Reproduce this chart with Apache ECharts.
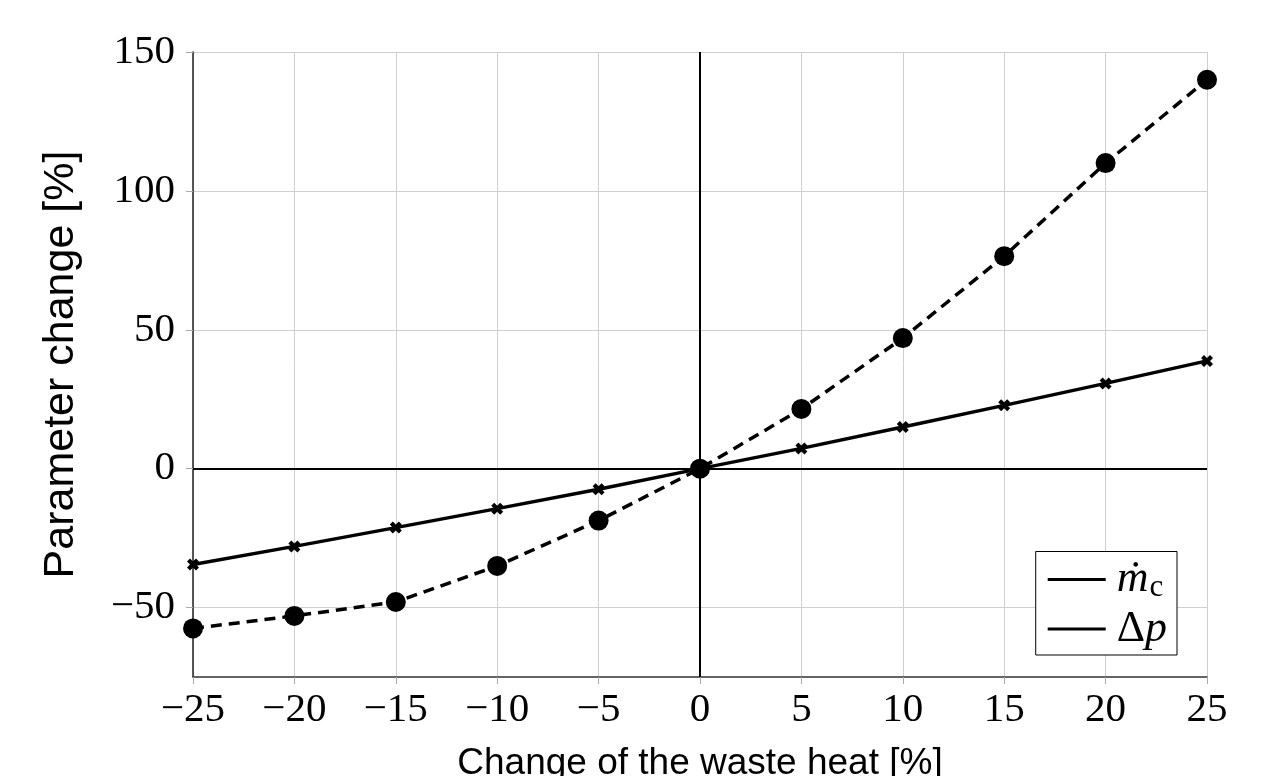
<!DOCTYPE html>
<html>
<head>
<meta charset="utf-8">
<script src="https://cdn.jsdelivr.net/npm/echarts@6/dist/echarts.min.js"></script>
<style>
  html, body { margin: 0; padding: 0; background: #fff; }
  #chart { width: 1273px; height: 776px; }
</style>
</head>
<body>
<div id="chart"></div>
<script>
// change of the waste heat [%]
var wasteHeat = [-25, -20, -15, -10, -5, 0, 5, 10, 15, 20, 25];
// dashed line with circles
var massFlow = [-57.5, -53, -48, -35, -18.7, 0, 21.5, 47, 76.5, 110, 140];
// solid line with crosses
var pressureDrop = [-34.5, -28, -21.2, -14.4, -7.4, 0, 7.3, 15, 22.8, 30.7, 38.8];
// y tick positions
var yTicks = [-50, 0, 50, 100, 150];

function pairs(xs, ys) {
  return xs.map(function (x, i) { return [x, ys[i]]; });
}

var serif = '"Liberation Serif", "DejaVu Serif", serif';
var sans = '"Liberation Sans", Arial, sans-serif';
var crossPath = 'path://M0,2.5 L2.5,0 L5,2.5 L7.5,0 L10,2.5 L7.5,5 L10,7.5 L7.5,10 L5,7.5 L2.5,10 L0,7.5 L2.5,5 Z';

function tickLabel(v) {
  return v < 0 ? '\u2212' + Math.abs(v) : String(v);
}

var chart = echarts.init(document.getElementById('chart'));
chart.setOption({
  animation: false,
  grid: { left: 193, right: 66, top: 52, bottom: 99, outerBoundsMode: 'none' },
  legend: {
    orient: 'vertical',
    right: 96,
    bottom: 121,
    padding: [6, 10, 4, 12],
    itemGap: 4,
    borderColor: '#000',
    borderWidth: 1,
    backgroundColor: '#fff',
    icon: 'rect',
    itemWidth: 58,
    itemHeight: 3,
    itemStyle: { color: '#000' },
    data: ['mdot', 'dp'],
    formatter: function (name) {
      return name === 'mdot' ? '{g|}{i|\u1E41}{s|c}' : '{g|}{n|\u0394}{i|p}';
    },
    textStyle: {
      rich: {
        g: { width: 6 },
        i: { fontFamily: serif, fontStyle: 'italic', fontSize: 44, color: '#000' },
        n: { fontFamily: serif, fontSize: 44, color: '#000' },
        s: { fontFamily: serif, fontSize: 31, color: '#000', verticalAlign: 'bottom', padding: [16, 0, 0, 1] }
      }
    }
  },
  xAxis: {
    type: 'value',
    min: -25,
    max: 25,
    interval: 5,
    name: 'Change of the waste heat [%]',
    nameLocation: 'middle',
    nameGap: 68,
    nameTextStyle: { fontFamily: sans, fontSize: 37, color: '#000' },
    axisLine: { onZero: false, lineStyle: { color: '#333', width: 1.5 } },
    axisTick: { show: true, length: 7, lineStyle: { color: '#aaa' } },
    axisLabel: {
      fontFamily: serif, fontSize: 41, color: '#000', margin: 13,
      formatter: tickLabel
    },
    splitLine: { show: true, lineStyle: { color: '#cfcfcf', width: 1 } }
  },
  yAxis: {
    type: 'value',
    min: -75,
    max: 150,
    interval: 25,
    name: 'Parameter change [%]',
    nameLocation: 'middle',
    nameGap: 110,
    nameTextStyle: { fontFamily: sans, fontSize: 43, color: '#000' },
    axisLine: { show: true, onZero: false, lineStyle: { color: '#222', width: 1.5 } },
    axisTick: { show: true, length: 7, lineStyle: { color: '#aaa' }, customValues: yTicks },
    axisLabel: {
      fontFamily: serif, fontSize: 41, color: '#000', margin: 18,
      formatter: tickLabel,
      customValues: yTicks
    },
    splitLine: { show: true, lineStyle: { color: '#cfcfcf', width: 1 } }
  },
  series: [
    {
      name: 'mdot',
      type: 'line',
      data: pairs(wasteHeat, massFlow),
      symbol: 'circle',
      symbolSize: 20,
      itemStyle: { color: '#000' },
      lineStyle: { color: '#000', width: 3.5, type: [11, 7] },
      z: 4,
      markLine: {
        silent: true,
        symbol: 'none',
        label: { show: false },
        lineStyle: { color: '#000', width: 2, type: 'solid' },
        data: [{ xAxis: 0 }, { yAxis: 0 }]
      }
    },
    {
      name: 'dp',
      type: 'line',
      data: pairs(wasteHeat, pressureDrop),
      symbol: crossPath,
      symbolSize: 12,
      itemStyle: { color: '#000' },
      lineStyle: { color: '#000', width: 3.4 },
      z: 3
    }
  ]
});
</script>
</body>
</html>
